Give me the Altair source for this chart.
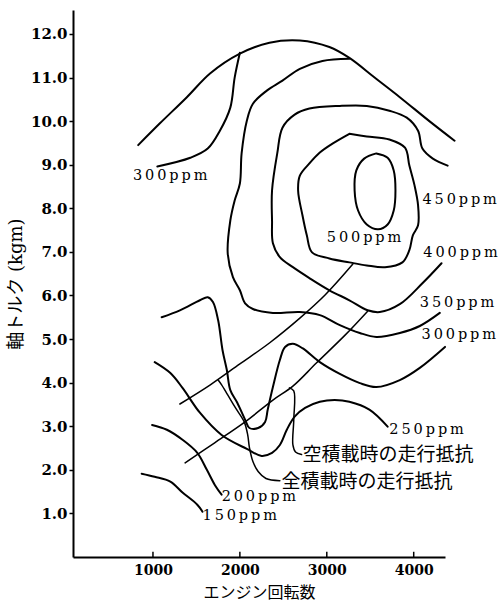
import altair as alt
import pandas as pd

# ---- axis ticks ----
rpm_ticks = [1000, 2000, 3000, 4000]
torque_ticks = [1, 2, 3, 4, 5, 6, 7, 8, 9, 10, 11, 12]

# ---- full-load torque ceiling ----
ceiling_rpm = [830, 1080, 1390, 1660, 2000, 2340, 2690, 3030, 3260, 3550, 3840, 4180, 4470]
ceiling_tq = [9.45, 9.95, 10.55, 11.1, 11.55, 11.8, 11.85, 11.7, 11.45, 11.0, 10.55, 10.0, 9.55]

# ---- iso-concentration lines (ppm) ----
c300a_rpm = [1050, 1430, 1630, 1770, 1890, 1940, 2000]
c300a_tq = [8.96, 9.16, 9.37, 9.78, 10.31, 11.0, 11.57]

c350_rpm = [3260, 2950, 2690, 2490, 2310, 2150, 2080, 2020, 2000, 1940, 1890, 1860, 1920,
            2000, 2060, 2150, 2380, 2690, 2920, 3150, 3380, 3570, 3840, 4070, 4300]
c350_tq = [11.43, 11.38, 11.2, 10.93, 10.7, 10.4, 10.01, 9.26, 8.57, 8.18, 7.72, 6.97, 6.42,
           6.12, 5.82, 5.69, 5.6, 5.62, 5.55, 5.32, 5.14, 5.05, 5.14, 5.3, 5.6]

c400_rpm = [4390, 4220, 4100, 4050, 3920, 3720, 3460, 3150, 2800, 2630, 2490, 2430, 2370,
            2370, 2380, 2460, 2610, 2800, 3030, 3260, 3470, 3610, 3840, 4100, 4320]
c400_tq = [8.98, 9.14, 9.37, 9.78, 10.08, 10.24, 10.35, 10.35, 10.29, 10.15, 9.85, 9.26, 8.41,
           7.72, 7.2, 6.88, 6.65, 6.4, 6.12, 5.89, 5.66, 5.62, 5.8, 6.28, 6.74]

c450_rpm = [3260, 3460, 3720, 3900, 3950, 4010, 4050, 4050, 3990, 3950, 3870, 3670, 3460,
            3260, 3030, 2830, 2770, 2720, 2670, 2690, 2800, 2920, 3070, 3260]
c450_tq = [9.71, 9.65, 9.58, 9.39, 8.98, 8.52, 8.07, 7.61, 7.38, 7.04, 6.76, 6.65, 6.69,
           6.76, 6.85, 6.99, 7.38, 7.84, 8.41, 8.75, 9.03, 9.28, 9.49, 9.71]

c500_rpm = [3570, 3700, 3770, 3790, 3770, 3700, 3590, 3460, 3360, 3320, 3340, 3430, 3570]
c500_tq = [9.26, 9.16, 8.87, 8.41, 7.95, 7.63, 7.52, 7.63, 7.95, 8.41, 8.87, 9.14, 9.26]

c300b_rpm = [1100, 1310, 1540, 1630, 1690, 1750, 1800, 1850, 1890, 1970, 2060, 2110, 2210,
             2290, 2320, 2380, 2460, 2520, 2610, 2720, 2920, 3150, 3380, 3570, 3840, 4070, 4360]
c300b_tq = [5.5, 5.66, 5.89, 5.96, 5.85, 5.43, 4.75, 4.29, 3.83, 3.54, 3.15, 2.96, 2.96,
            3.1, 3.38, 3.9, 4.52, 4.82, 4.89, 4.79, 4.47, 4.2, 3.99, 3.9, 4.06, 4.34, 4.82]

c250_rpm = [1020, 1200, 1340, 1540, 1790, 2080, 2250, 2370, 2460, 2540, 2630, 2750, 2920,
            3090, 3260, 3490, 3700]
c250_tq = [4.47, 4.22, 3.88, 3.31, 2.8, 2.48, 2.32, 2.39, 2.57, 2.92, 3.22, 3.42, 3.56,
           3.6, 3.56, 3.38, 2.99]

c200_rpm = [990, 1160, 1340, 1510, 1620, 1710, 1790]
c200_tq = [3.03, 2.92, 2.69, 2.39, 2.0, 1.66, 1.43]

c150_rpm = [870, 1020, 1200, 1340, 1510, 1570]
c150_tq = [1.91, 1.84, 1.73, 1.48, 1.2, 1.04]

# ---- road-load (running resistance) lines ----
full_load_rpm = [1310, 1660, 2000, 2340, 2690, 2980, 3300]
full_load_tq = [3.51, 3.95, 4.43, 4.91, 5.48, 6.01, 6.72]

empty_load_rpm = [1370, 1710, 2060, 2380, 2610, 2880, 3210, 3470]
empty_load_tq = [2.16, 2.62, 3.1, 3.6, 3.92, 4.45, 5.09, 5.64]

# leader lines from the road-load lines to their captions
full_leader_rpm = [1750, 1790, 1860, 1950, 2050, 2090, 2110, 2150, 2210, 2300, 2460]
full_leader_tq = [4.06, 3.95, 3.72, 3.42, 3.1, 2.8, 2.51, 2.19, 1.96, 1.8, 1.75]

empty_leader_rpm = [2570, 2620, 2620, 2610, 2640, 2710]
empty_leader_tq = [3.88, 3.81, 3.15, 2.57, 2.41, 2.35]

# ---- captions ----
ppm_text = ["300ppm", "450ppm", "500ppm", "400ppm", "350ppm", "300ppm", "250ppm", "200ppm", "150ppm"]
ppm_rpm = [770, 4100, 3000, 4110, 4070, 4090, 3720, 1790, 1570]
ppm_tq = [8.75, 8.18, 7.33, 6.97, 5.82, 5.09, 2.92, 1.38, 0.93]

jp_text = ["空積載時の走行抵抗", "全積載時の走行抵抗"]
jp_rpm = [2720, 2480]
jp_tq = [2.35, 1.73]


def path_frame(curves):
    rows = []
    for name, xs, ys in curves:
        for i, (a, b) in enumerate(zip(xs, ys)):
            rows.append({"curve": name, "seq": i, "rpm": a, "tq": b})
    return pd.DataFrame(rows)


contours = path_frame([
    ("ceiling", ceiling_rpm, ceiling_tq),
    ("300a", c300a_rpm, c300a_tq),
    ("350", c350_rpm, c350_tq),
    ("400", c400_rpm, c400_tq),
    ("450", c450_rpm, c450_tq),
    ("500", c500_rpm, c500_tq),
    ("300b", c300b_rpm, c300b_tq),
    ("250", c250_rpm, c250_tq),
    ("200", c200_rpm, c200_tq),
    ("150", c150_rpm, c150_tq),
])

road = path_frame([
    ("full", full_load_rpm, full_load_tq),
    ("empty", empty_load_rpm, empty_load_tq),
    ("full_leader", full_leader_rpm, full_leader_tq),
    ("empty_leader", empty_leader_rpm, empty_leader_tq),
])

# letter-spaced ppm captions
ppm_df = pd.DataFrame({
    "label": ["\u2009".join(t) for t in ppm_text],
    "rpm": ppm_rpm,
    "tq": ppm_tq,
})
jp_df = pd.DataFrame({"label": jp_text, "rpm": jp_rpm, "tq": jp_tq})
tick_df = pd.DataFrame({"rpm": rpm_ticks, "base": [0.0] * 4, "top": [0.12] * 4})

SERIF = "DejaVu Serif"
JP = "Noto Sans CJK JP"

xscale = alt.Scale(domain=[80, 4360], nice=False, zero=False)
yscale = alt.Scale(domain=[0, 12.55], nice=False, zero=False)

x_axis = alt.Axis(
    values=rpm_ticks, format="d", tickSize=0, labelPadding=6,
    labelFont=SERIF, labelFontWeight="bold", labelFontSize=14, labelColor="black",
    title="エンジン回転数", titleFont=JP, titleFontSize=16, titleFontWeight="normal",
    titleColor="black", titlePadding=7,
    domainColor="black", domainWidth=2, grid=False,
)
y_axis = alt.Axis(
    values=torque_ticks, format=".1f", tickSize=4, tickColor="black", tickWidth=1.5,
    labelPadding=2, labelFont=SERIF, labelFontWeight="bold", labelFontSize=15,
    labelColor="black",
    title="軸トルク (kgm)", titleFont=f"'{SERIF}', '{JP}'", titleFontSize=18,
    titleFontWeight="normal", titleColor="black", titlePadding=5,
    domainColor="black", domainWidth=2, grid=False,
)

contour_layer = alt.Chart(contours).mark_line(
    color="black", strokeWidth=2, strokeJoin="round", strokeCap="round",
    interpolate="catmull-rom",
).encode(
    x=alt.X("rpm:Q", scale=xscale, axis=x_axis),
    y=alt.Y("tq:Q", scale=yscale, axis=y_axis),
    detail="curve:N",
    order="seq:Q",
)

road_layer = alt.Chart(road).mark_line(
    color="black", strokeWidth=1.5, strokeJoin="round", strokeCap="round",
    interpolate="catmull-rom",
).encode(
    x="rpm:Q", y="tq:Q", detail="curve:N", order="seq:Q",
)

tick_layer = alt.Chart(tick_df).mark_rule(color="black", strokeWidth=1.5).encode(
    x="rpm:Q", y="base:Q", y2="top:Q",
)

ppm_layer = alt.Chart(ppm_df).mark_text(
    align="left", baseline="middle", font=SERIF, fontSize=14.5, color="black"
).encode(x="rpm:Q", y="tq:Q", text="label:N")

jp_layer = alt.Chart(jp_df).mark_text(
    align="left", baseline="middle", font=JP, fontSize=19, color="black"
).encode(x="rpm:Q", y="tq:Q", text="label:N")

chart = alt.layer(
    contour_layer, road_layer, tick_layer, ppm_layer, jp_layer
).properties(
    width=372, height=547,
    autosize=alt.AutoSizeParams(type="none"),
    padding={"left": 73, "top": 10, "right": 57, "bottom": 46},
    background="white",
).configure_view(stroke=None)

chart.save("out.html", embed_options={"renderer": "svg", "actions": False})
